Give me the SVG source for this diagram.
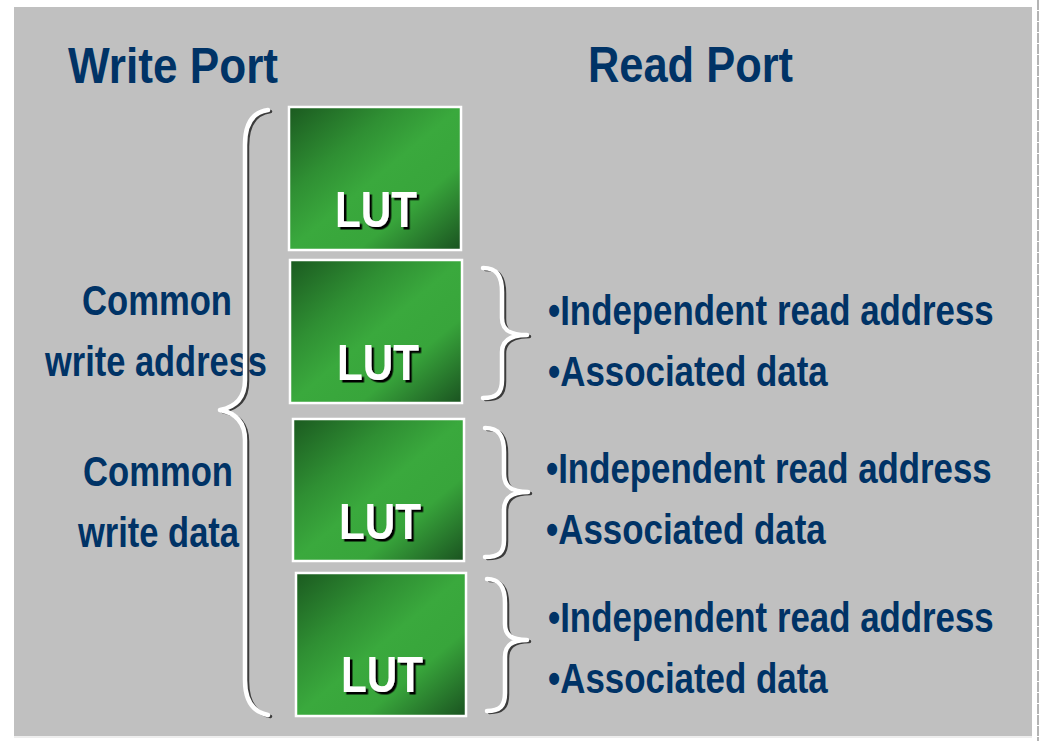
<svg xmlns="http://www.w3.org/2000/svg" width="1040" height="741" viewBox="0 0 1040 741">
  <style>
    .title { font-family: "Liberation Sans", Arial, sans-serif; font-weight: bold; font-size: 50px; fill: #003366; }
    .label { font-family: "Liberation Sans", Arial, sans-serif; font-weight: bold; font-size: 42px; fill: #003366; }
    .lut { font-family: "Liberation Sans", Arial, sans-serif; font-weight: bold; font-size: 50px; fill: #ffffff; filter: url(#hardShadow); }
    .box { fill: url(#lutFill); stroke: #ffffff; stroke-width: 2.5; }
    .brace-shadow { fill: none; stroke: #3c3c3c; stroke-width: 3.5; stroke-linecap: round; stroke-linejoin: round; }
    .brace { fill: none; stroke: #ffffff; stroke-width: 4.5; stroke-linecap: round; stroke-linejoin: round; }
  </style>
  <defs>
    <linearGradient id="lutFill" x1="0" y1="0" x2="1" y2="1">
      <stop offset="0" stop-color="#1b5a20"/>
      <stop offset="0.3" stop-color="#2f8f33"/>
      <stop offset="0.5" stop-color="#3aa93d"/>
      <stop offset="0.7" stop-color="#38a53b"/>
      <stop offset="1" stop-color="#1a5220"/>
    </linearGradient>
    <filter id="hardShadow" x="-10%" y="-10%" width="130%" height="130%">
      <feDropShadow dx="2.5" dy="2.5" stdDeviation="0" flood-color="#000000" flood-opacity="1"/>
    </filter>
  </defs>

  <!-- page -->
  <rect x="0" y="0" width="1040" height="741" fill="#ffffff"/>
  <rect x="14" y="7" width="1018" height="729" fill="#c0c0c0"/>
  <line x1="14" y1="737" x2="1032" y2="737" stroke="#dcdcdc" stroke-width="1"/>
  <line x1="1038" y1="0" x2="1038" y2="741" stroke="#b4b4b4" stroke-width="2" stroke-dasharray="10 1"/>

  <!-- headings -->
  <text class="title" x="68" y="83" textLength="210" lengthAdjust="spacingAndGlyphs">Write Port</text>
  <text class="title" x="588" y="82" textLength="205" lengthAdjust="spacingAndGlyphs">Read Port</text>

  <!-- write-side labels -->
  <g id="write-address-label">
    <text class="label" x="82" y="315" textLength="150" lengthAdjust="spacingAndGlyphs">Common</text>
    <text class="label" x="45" y="376" textLength="222" lengthAdjust="spacingAndGlyphs">write address</text>
  </g>
  <g id="write-data-label">
    <text class="label" x="83" y="486" textLength="150" lengthAdjust="spacingAndGlyphs">Common</text>
    <text class="label" x="78" y="547" textLength="161" lengthAdjust="spacingAndGlyphs">write data</text>
  </g>

  <!-- brackets -->
  <g id="connectors">
    <g transform="translate(2.5,1.5)">
      <path class="brace-shadow" d="M268,110 C253,112 245,124 245,145 L245,380 C245,398 236,407 220,410 C236,413 245,422 245,440 L245,680 C245,700 253,712 268,715"/>
      <path class="brace-shadow" d="M483,268 C497,268 502,276 502,292 L502,318 C502,330 510,335 527,335 C510,335 502,341 502,352 L502,380 C502,393 497,398 483,398"/>
      <path class="brace-shadow" d="M485,428 C499,428 504,436 504,452 L504,474 C504,486 511,492 528,492 C511,492 504,498 504,510 L504,540 C504,553 499,557 485,557"/>
      <path class="brace-shadow" d="M487,579 C500,579 505,587 505,603 L505,624 C505,635 511,640 527,640 C511,640 505,646 505,657 L505,693 C505,706 500,711 487,711"/>
    </g>
    <path class="brace" d="M268,110 C253,112 245,124 245,145 L245,380 C245,398 236,407 220,410 C236,413 245,422 245,440 L245,680 C245,700 253,712 268,715"/>
    <path class="brace" d="M483,268 C497,268 502,276 502,292 L502,318 C502,330 510,335 527,335 C510,335 502,341 502,352 L502,380 C502,393 497,398 483,398"/>
    <path class="brace" d="M485,428 C499,428 504,436 504,452 L504,474 C504,486 511,492 528,492 C511,492 504,498 504,510 L504,540 C504,553 499,557 485,557"/>
    <path class="brace" d="M487,579 C500,579 505,587 505,603 L505,624 C505,635 511,640 527,640 C511,640 505,646 505,657 L505,693 C505,706 500,711 487,711"/>
  </g>

  <!-- LUT blocks -->
  <g id="lut-1">
    <rect class="box" x="289" y="107" width="172" height="143"/>
    <text class="lut" x="335" y="227" textLength="82" lengthAdjust="spacingAndGlyphs">LUT</text>
  </g>
  <g id="lut-2">
    <rect class="box" x="290" y="260" width="172" height="143"/>
    <text class="lut" x="337" y="380" textLength="82" lengthAdjust="spacingAndGlyphs">LUT</text>
  </g>
  <g id="lut-3">
    <rect class="box" x="293" y="419" width="171" height="142"/>
    <text class="lut" x="339" y="539" textLength="82" lengthAdjust="spacingAndGlyphs">LUT</text>
  </g>
  <g id="lut-4">
    <rect class="box" x="296" y="573" width="170" height="143"/>
    <text class="lut" x="341" y="692" textLength="82" lengthAdjust="spacingAndGlyphs">LUT</text>
  </g>

  <!-- read-side labels (narrowed horizontally) -->
  <g id="read-1" transform="translate(548,0) scale(0.83,1)">
    <text class="label" x="0" y="325" textLength="537" lengthAdjust="spacingAndGlyphs">•Independent read address</text>
    <text class="label" x="0" y="386" textLength="337" lengthAdjust="spacingAndGlyphs">•Associated data</text>
  </g>
  <g id="read-2" transform="translate(546,0) scale(0.83,1)">
    <text class="label" x="0" y="483" textLength="537" lengthAdjust="spacingAndGlyphs">•Independent read address</text>
    <text class="label" x="0" y="544" textLength="337" lengthAdjust="spacingAndGlyphs">•Associated data</text>
  </g>
  <g id="read-3" transform="translate(548,0) scale(0.83,1)">
    <text class="label" x="0" y="632" textLength="537" lengthAdjust="spacingAndGlyphs">•Independent read address</text>
    <text class="label" x="0" y="693" textLength="337" lengthAdjust="spacingAndGlyphs">•Associated data</text>
  </g>
</svg>
